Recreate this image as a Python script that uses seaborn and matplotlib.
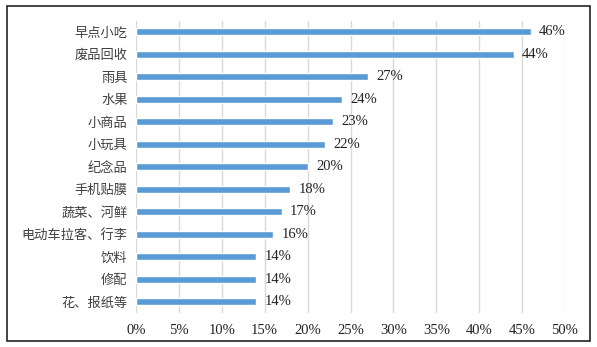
import matplotlib
matplotlib.use("Agg")
import matplotlib.pyplot as plt
import matplotlib.patches as mpatches
from matplotlib.ticker import FuncFormatter, MultipleLocator
import seaborn as sns
import pandas as pd

categories = ["早点小吃", "废品回收", "雨具", "水果", "小商品", "小玩具", "纪念品",
              "手机贴膜", "蔬菜、河鲜", "电动车拉客、行李", "饮料", "修配", "花、报纸等"]
shares = [46, 44, 27, 24, 23, 22, 20, 18, 17, 16, 14, 14, 14]

df = pd.DataFrame({"category": categories, "share": shares})

sns.set_theme(style="white")
plt.rcParams["font.family"] = ["Liberation Serif", "Noto Sans CJK SC"]

fig = plt.figure(figsize=(5.97, 3.47), dpi=100)
ax = fig.add_axes([136 / 597, 1 - 313 / 347, (565 - 136) / 597, (313 - 20.5) / 347])

sns.barplot(data=df, x="share", y="category", orient="h", color="#5B9BD5",
            saturation=1, width=0.32, ax=ax, zorder=3)

ax.set_xlim(0, 50)
ax.xaxis.set_major_locator(MultipleLocator(5))
ax.xaxis.set_major_formatter(FuncFormatter(lambda v, _: f"{v:.0f}%"))
ax.grid(axis="x", color="#d9d9d9", linewidth=1, zorder=0)
ax.set_axisbelow(True)
for s in ax.spines.values():
    s.set_visible(False)
ax.set_xlabel("")
ax.set_ylabel("")
ax.tick_params(axis="both", length=0, colors="#222222")
ax.tick_params(axis="x", pad=8, labelsize=10.5)
ax.tick_params(axis="y", pad=6)
for lbl in ax.get_yticklabels():
    lbl.set_fontfamily(["Noto Sans CJK SC"])
    lbl.set_fontsize(9.5)
    lbl.set_fontweight("light")
    lbl.set_color("#404040")

for i, v in enumerate(shares):
    ax.annotate(f"{v}%", xy=(v, i), xytext=(6, 0), textcoords="offset points",
                va="center", ha="left", fontsize=10.5, color="#222222")

# outer frame around the whole chart
fig.patches.append(mpatches.Rectangle((7 / 597, 1 - 341 / 347), 583 / 597, 335 / 347,
                                      transform=fig.transFigure, fill=False,
                                      edgecolor="#222222", linewidth=1.2))

fig.savefig("out.png", dpi=100)
